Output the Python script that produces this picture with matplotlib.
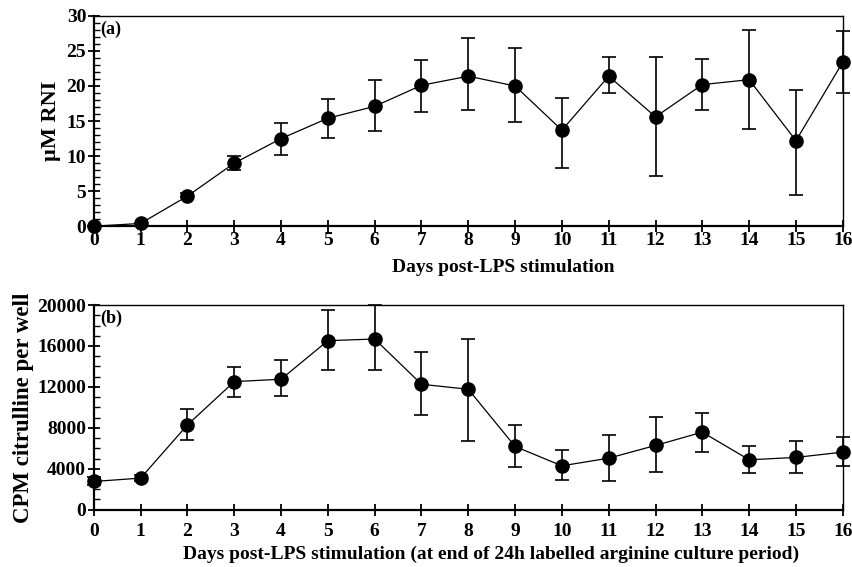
import numpy as np
import matplotlib
matplotlib.use('Agg')
import matplotlib.pyplot as plt
from matplotlib.ticker import MultipleLocator

# =============================================================================
# Data
# =============================================================================
days = [0, 1, 2, 3, 4, 5, 6, 7, 8, 9, 10, 11, 12, 13, 14, 15, 16]

rni_mean = [0.0, 0.4, 4.3, 9.0, 12.5, 15.4, 17.1, 20.1, 21.4, 20.0, 13.7,
            21.4, 15.6, 20.2, 20.9, 12.2, 23.4]
rni_lo = [0.0, 0.4, 4.1, 8.0, 10.2, 12.6, 13.6, 16.3, 16.6, 14.9, 8.3,
          19.0, 7.2, 16.6, 13.9, 4.5, 19.0]
rni_hi = [0.0, 0.4, 4.7, 10.0, 14.7, 18.2, 20.8, 23.7, 26.8, 25.4, 18.3,
          24.1, 24.1, 23.9, 28.0, 19.5, 27.9]

cpm_mean = [2760, 3090, 8290, 12520, 12750, 16520, 16680, 12260, 11770, 6180,
            4290, 5040, 6280, 7580, 4880, 5110, 5630]
cpm_lo = [2400, 2800, 6830, 11010, 11150, 13660, 13660, 9240, 6670, 4160,
          2890, 2830, 3640, 5660, 3610, 3610, 4230]
cpm_hi = [3200, 3400, 9880, 13950, 14600, 19540, 20000, 15410, 16650, 8260,
          5820, 7350, 9070, 9500, 6180, 6730, 7120]

plt.rcParams['font.family'] = 'Liberation Serif'
plt.rcParams['font.weight'] = 'bold'

def panel(ax, mean, lo, hi, xpad):
    mean = np.array(mean)
    yerr = [mean - np.array(lo), np.array(hi) - mean]
    ax.errorbar(days, mean, yerr=yerr, fmt='-o', color='black', lw=0.9,
                ms=9.5, elinewidth=1.2, capsize=5, capthick=1.2, clip_on=False,
                zorder=3)
    ax.set_xlim(0, 16)
    ax.set_xticks(days)
    for s in ['top', 'right']:
        ax.spines[s].set_linewidth(1.0)
    for s in ['left', 'bottom']:
        ax.spines[s].set_linewidth(1.6)
    ax.tick_params(axis='both', which='major', direction='inout', length=9,
                   width=1.3, labelsize=14, pad=1)
    ax.tick_params(axis='x', which='major', pad=xpad)
    ax.tick_params(axis='y', which='minor', direction='in', length=4, width=1.0)
    for lab in ax.get_xticklabels() + ax.get_yticklabels():
        lab.set_fontweight('bold')

fig = plt.figure(figsize=(8.53, 5.67), dpi=100)
ax1 = fig.add_axes([0.110, 0.601, 0.878, 0.371])
ax2 = fig.add_axes([0.110, 0.101, 0.878, 0.361])

panel(ax1, rni_mean, rni_lo, rni_hi, 0)
ax1.set_ylim(0, 30)
ax1.set_yticks([0, 5, 10, 15, 20, 25, 30])
ax1.yaxis.set_minor_locator(MultipleLocator(1))
ax1.set_ylabel('\u00b5M RNI', fontsize=16, fontweight='bold')
ax1.yaxis.set_label_coords(-0.044, 0.5)
ax1.set_xlabel('Days post-LPS stimulation', fontsize=14, fontweight='bold')
ax1.xaxis.set_label_coords(0.547, -0.155)
ax1.text(0.008, 0.975, '(a)', transform=ax1.transAxes, fontsize=13,
         fontweight='bold', va='top', ha='left')

panel(ax2, cpm_mean, cpm_lo, cpm_hi, 5)
ax2.set_ylim(0, 20000)
ax2.set_yticks([0, 4000, 8000, 12000, 16000, 20000])
ax2.yaxis.set_minor_locator(MultipleLocator(1000))
ax2.set_ylabel('CPM citrulline per well', fontsize=16.5, fontweight='bold')
ax2.yaxis.set_label_coords(-0.08, 0.5)
ax2.set_xlabel('Days post-LPS stimulation (at end of 24h labelled arginine culture period)',
               fontsize=14, fontweight='bold')
ax2.xaxis.set_label_coords(0.53, -0.175)
ax2.text(0.008, 0.975, '(b)', transform=ax2.transAxes, fontsize=13,
         fontweight='bold', va='top', ha='left')

fig.savefig('out.png', dpi=100)
